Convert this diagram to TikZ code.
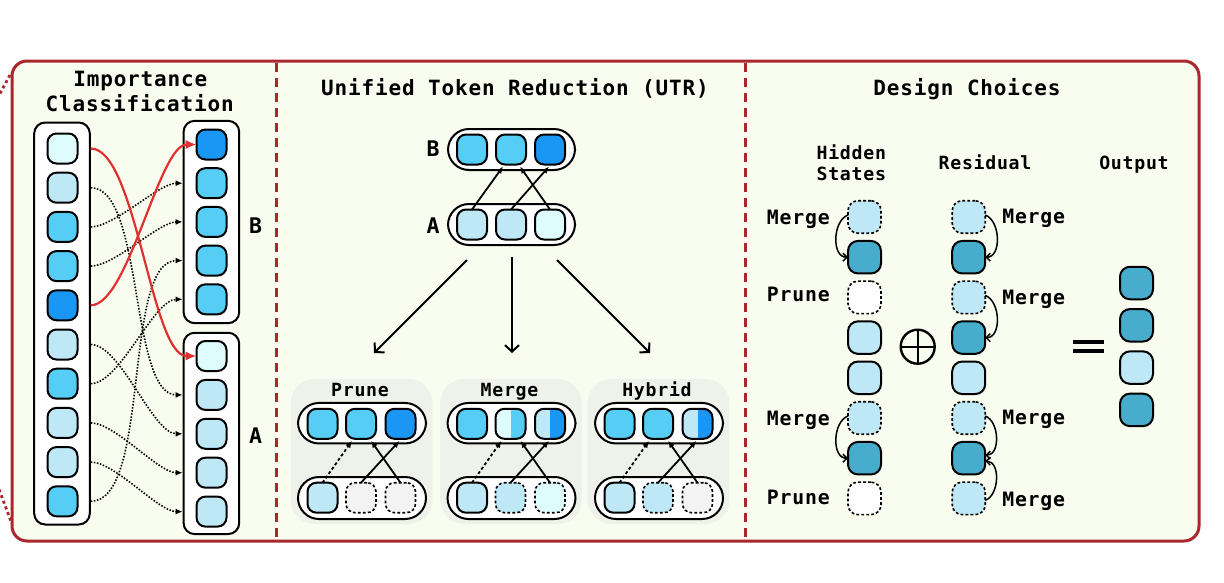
\documentclass[tikz,border=0pt]{standalone}
\usepackage{fontspec}
\newfontfamily\monof[LetterSpace=4]{DejaVu Sans Mono}
\usetikzlibrary{arrows.meta}
\definecolor{framec}{HTML}{A8282D}
\definecolor{bgc}{HTML}{F9FDEF}
\definecolor{subbg}{HTML}{EFF2EA}
\definecolor{cA}{HTML}{DFFCFD}
\definecolor{cB}{HTML}{BEE8F6}
\definecolor{cC}{HTML}{56CDF5}
\definecolor{cD}{HTML}{1A96F5}
\definecolor{cT}{HTML}{48ACCD}
\definecolor{cG}{HTML}{F3F3F3}
\definecolor{redc}{HTML}{E0302F}
\begin{document}
\begin{tikzpicture}[x=1pt,y=-1pt,
  tok/.style={draw=black, line width=2pt, rounded corners=9pt, minimum width=30pt, minimum height=30pt, inner sep=0pt, outer sep=0pt},
  dtok/.style={tok, line width=1.6pt, dash pattern=on 2.8pt off 2.2pt},
  btok/.style={draw=black, line width=2pt, rounded corners=10pt, minimum width=33pt, minimum height=32.5pt, inner sep=0pt, outer sep=0pt},
  dbtok/.style={btok, line width=1.6pt, dash pattern=on 2.8pt off 2.2pt},
  cont/.style={draw, fill=white, line width=2pt, rounded corners=11pt, inner sep=0pt, minimum width=55.6pt},
  pill/.style={draw, fill=white, line width=2pt, rounded corners=21pt, inner sep=0pt},
  subbox/.style={fill=subbg, rounded corners=24pt, minimum width=141.6pt, minimum height=145pt, inner sep=0pt},
  ttl/.style={font=\monof\bfseries\fontsize{21}{23}\selectfont, inner sep=0pt, anchor=base},
  side/.style={font=\monof\bfseries\fontsize{19.8}{21}\selectfont, inner sep=0pt, anchor=base},
  lbl/.style={font=\monof\bfseries\fontsize{18.2}{20}\selectfont, inner sep=0pt, anchor=base},
  big/.style={font=\monof\bfseries\fontsize{21.5}{23}\selectfont, inner sep=0pt},
  dotarr/.style={line width=1.6pt, dash pattern=on 1.5pt off 1.6pt, -{Latex[length=7pt,width=6pt]}},
  redarr/.style={draw=redc, line width=2.2pt, -{Latex[length=11pt,width=9.5pt]}},
  smarr/.style={line width=1.8pt, -{Latex[length=7pt,width=6pt]}},
  dsmarr/.style={smarr, dash pattern=on 3pt off 2.4pt},
  bigarr/.style={line width=2pt, -{Straight Barb[length=6.5pt,width=14pt]}},
  curarr/.style={line width=1.5pt, -{Straight Barb[length=4pt,width=8pt]}},
  split/.style 2 args={path picture={\fill[#1, sharp corners] (path picture bounding box.south west) rectangle (path picture bounding box.north); \fill[#2, sharp corners] (path picture bounding box.south) rectangle (path picture bounding box.north east);}}
]
\useasboundingbox (0,0) rectangle (1224,582);
% outer dotted remnants
\draw[framec, line width=2.8pt, dash pattern=on 3pt off 3pt] (10,75) -- (-3,99);
\draw[framec, line width=2.8pt, dash pattern=on 3pt off 3pt] (-3,484) -- (12,524);
% frame
\draw[framec, line width=3pt, fill=bgc, rounded corners=15pt] (12,61) rectangle (1199,541);
\draw[framec, line width=3pt, dash pattern=on 9pt off 6pt] (276,63) -- (276,539);
\draw[framec, line width=3pt, dash pattern=on 9pt off 6pt] (745,63) -- (745,539);

% ---------------- Panel 1
\node[ttl] (t1a) at (140.3,86.5) {Importance};
\node[ttl] (t1b) at (139.7,111) {Classification};
\node[cont, minimum height=402pt] (lc) at (62,323.5) {};
\foreach \c [count=\i] in {cA,cB,cC,cC,cD,cB,cC,cB,cB,cC}
  \node[tok, fill=\c] (l\i) at (62.5,{148.5+39.2*(\i-1)}) {};
\node[cont, minimum height=202.3pt] (bc) at (211.4,222) {};
\foreach \c [count=\i] in {cD,cC,cC,cC,cC}
  \node[tok, fill=\c] (b\i) at (211.5,{144.5+38.7*(\i-1)}) {};
\node[cont, minimum height=201.3pt] (ac) at (211.4,433.4) {};
\foreach \c [count=\i] in {cA,cB,cB,cB,cB}
  \node[tok, fill=\c] (a\i) at (211.5,{356+38.9*(\i-1)}) {};
\node[big] (lb) at (255.5,225.5) {B};
\node[big] (la) at (255.5,435.5) {A};
\begin{scope}[looseness=0.6]
\draw[dotarr] (lc.east |- l2) to[out=0,in=180] (ac.west |- a2);
\draw[dotarr] (lc.east |- l3) to[out=0,in=180] (bc.west |- b2);
\draw[dotarr] (lc.east |- l4) to[out=0,in=180] (bc.west |- b3);
\draw[dotarr] (lc.east |- l6) to[out=0,in=180] (ac.west |- a3);
\draw[dotarr] (lc.east |- l7) to[out=0,in=180] (bc.west |- b5);
\draw[dotarr] (lc.east |- l8) to[out=0,in=180] (ac.west |- a4);
\draw[dotarr] (lc.east |- l9) to[out=0,in=180] (ac.west |- a5);
\draw[dotarr] (lc.east |- l10) to[out=0,in=180] (bc.west |- b4);
\draw[redarr] (lc.east |- l1) to[out=0,in=180, looseness=0.5] (a1.west);
\draw[redarr] (lc.east |- l5) to[out=0,in=180, looseness=0.5] (b1.west);
\end{scope}

% ---------------- Panel 2
\node[ttl] (t2) at (515,95.5) {Unified Token Reduction (UTR)};
\node[pill, minimum width=127pt, minimum height=41pt] (ubp) at (511.5,149.5) {};
\node[pill, minimum width=127pt, minimum height=41pt] (uap) at (511.5,224.5) {};
\foreach \c/\x [count=\i] in {cC/472,cC/511,cD/550}
  \node[tok, fill=\c] (ub\i) at (\x,149.5) {};
\foreach \c/\x [count=\i] in {cB/472,cB/511,cA/550}
  \node[tok, fill=\c] (ua\i) at (\x,224.5) {};
\node[big] (ulb) at (433,149) {B};
\node[big] (ula) at (433,225.5) {A};
\draw[smarr] (ua1.north) -- ([xshift=-8pt,yshift=-2pt]ub2.south);
\draw[smarr] (ua2.north) -- ([xshift=-1pt,yshift=-2pt]ub3.south);
\draw[smarr] (ua3.north) -- ([xshift=9pt,yshift=-2pt]ub2.south);
\coordinate (s1) at (467,260); \coordinate (e1) at (374,353);
\coordinate (s2) at (512,257); \coordinate (e2) at (512,353);
\coordinate (s3) at (557,260); \coordinate (e3) at (650,353);
\draw[bigarr] (s1) -- (e1);
\draw[bigarr] (s2) -- (e2);
\draw[bigarr] (s3) -- (e3);

% sub boxes
\foreach \n/\cx/\lab in {p/361.5/Prune, m/511/Merge, h/658.5/Hybrid}{
  \node[subbox] (\n bg) at (\cx,451.5) {};
  \node[lbl] (\n lab) at (\cx-1.5,396) {\lab};
  \node[pill, minimum width=128pt, minimum height=40.5pt] (\n top) at (\cx+0.5,423.2) {};
  \node[pill, minimum width=128pt, minimum height=42pt] (\n bot) at (\cx+0.5,498) {};
}
% prune
\node[tok, fill=cC] (pt1) at (322.5,423.8) {};
\node[tok, fill=cC] (pt2) at (361,423.8) {};
\node[tok, fill=cD] (pt3) at (400.5,423.8) {};
\node[tok, fill=cB] (pb1) at (322.5,497.7) {};
\node[dtok, fill=cG] (pb2) at (361,497.7) {};
\node[dtok, fill=cG] (pb3) at (400.5,497.7) {};
% merge
\node[tok, fill=cC] (mt1) at (472,423.8) {};
\node[tok, split={cA}{cC}] (mt2) at (510.5,423.8) {};
\node[tok, split={cB}{cD}] (mt3) at (550,423.8) {};
\node[tok, fill=cB] (mb1) at (472,497.7) {};
\node[dtok, fill=cB] (mb2) at (510.5,497.7) {};
\node[dtok, fill=cA] (mb3) at (550,497.7) {};
% hybrid
\node[tok, fill=cC] (ht1) at (619.5,423.8) {};
\node[tok, fill=cC] (ht2) at (658,423.8) {};
\node[tok, split={cB}{cD}] (ht3) at (697.5,423.8) {};
\node[tok, fill=cB] (hb1) at (619.5,497.7) {};
\node[dtok, fill=cB] (hb2) at (658,497.7) {};
\node[dtok, fill=cG] (hb3) at (697.5,497.7) {};
\foreach \n in {p,m,h}{
  \draw[dsmarr] (\n b1.north) -- ([xshift=-9pt,yshift=-2pt]\n t2.south);
  \draw[smarr] (\n b2.north) -- ([xshift=-1pt,yshift=-2pt]\n t3.south);
  \draw[smarr] (\n b3.north) -- ([xshift=10pt,yshift=-2pt]\n t2.south);
}

% ---------------- Panel 3
\node[ttl] (t3) at (967,95.5) {Design Choices};
\node[lbl] (hd1) at (851.3,159.3) {Hidden};
\node[lbl] (hd2) at (851.3,180) {States};
\node[lbl] (hd3) at (985,169.3) {Residual};
\node[lbl] (hd4) at (1134,169.3) {Output};
\foreach \s/\c [count=\i] in {dbtok/cB,btok/cT,dbtok/white,btok/cB,btok/cB,dbtok/cB,btok/cT,dbtok/white}
  \node[\s, fill=\c] (h\i) at (864.5,{217+40.2*(\i-1)}) {};
\foreach \s/\c [count=\i] in {dbtok/cB,btok/cT,dbtok/cB,btok/cT,btok/cB,dbtok/cB,btok/cT,dbtok/cB}
  \node[\s, fill=\c] (r\i) at (968.7,{217+40.2*(\i-1)}) {};
\foreach \c [count=\i] in {cT,cT,cB,cT}
  \node[btok, fill=\c] (o\i) at (1136.5,{283+42.3*(\i-1)}) {};
\node[side] (lm1) at (798.3,224) {Merge};
\node[side] (lp1) at (798.3,301.7) {Prune};
\node[side] (lm2) at (798.3,425) {Merge};
\node[side] (lp2) at (798.3,504) {Prune};
\node[side] (rm1) at (1033.7,223.3) {Merge};
\node[side] (rm2) at (1033.7,304.3) {Merge};
\node[side] (rm3) at (1033.7,424) {Merge};
\node[side] (rm4) at (1033.7,506.7) {Merge};
\draw[curarr] ([yshift=2pt]h1.west) to[out=200,in=180] (h2.west);
\draw[curarr] ([yshift=2pt]h6.west) to[out=200,in=180] (h7.west);
\draw[curarr] ([yshift=2pt]r1.east) to[out=-20,in=0] (r2.east);
\draw[curarr] ([yshift=2pt]r3.east) to[out=-20,in=0] (r4.east);
\draw[curarr] ([yshift=2pt]r6.east) to[out=-20,in=0] ([yshift=3pt]r7.east);
\draw[curarr] ([yshift=-2pt]r8.east) to[out=20,in=0] ([yshift=-3pt]r7.east);
% oplus
\node[circle, draw, line width=2.4pt, minimum size=34pt, inner sep=0pt,
  path picture={\draw[line width=2.4pt] (path picture bounding box.north) -- (path picture bounding box.south);
                \draw[line width=2.4pt] (path picture bounding box.west) -- (path picture bounding box.east);}] (opl) at (917.7,346.7) {};
% equals
\fill (1073,339.5) rectangle (1104,344);
\fill (1073,348.5) rectangle (1104,353);
\end{tikzpicture}
\end{document}
